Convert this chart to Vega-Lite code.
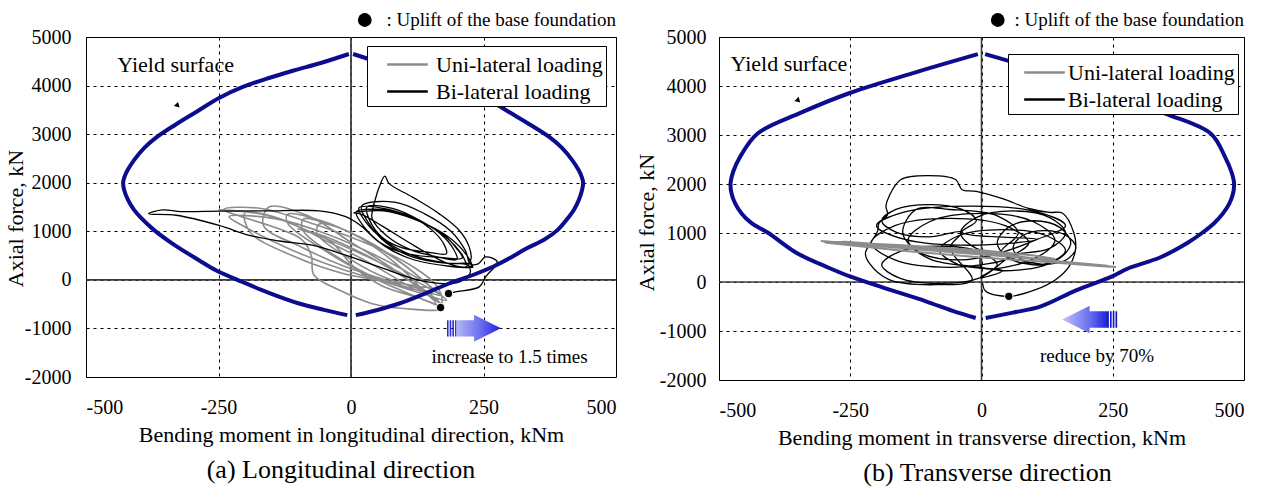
{
"$schema": "https://vega.github.io/schema/vega-lite/v6.json",
"background": "white",
"padding": {"left": 3, "top": 10, "right": 5, "bottom": 2},
"bounds": "flush",
"spacing": 103,
"resolve": {"scale": {"color": "independent"}, "legend": {"color": "independent"}},
"config": {
 "font": "Liberation Serif",
 "view": {"stroke": "#000", "strokeWidth": 1},
 "axis": {"labelFont": "Liberation Serif", "labelFontSize": 20, "labelColor": "#000", "titleFont": "Liberation Serif", "titleFontSize": 22, "titleFontWeight": "normal", "titleColor": "#000", "ticks": false, "domain": false, "grid": true, "gridColor": "#000", "gridDash": [3, 4], "gridWidth": 1, "gridOpacity": 1},
 "legend": {"fillColor": "#fff", "strokeColor": "#000", "padding": 3, "symbolType": "M-1.45,0L1.45,0", "symbolSize": 784, "symbolStrokeWidth": 2.5, "labelFont": "Liberation Serif", "labelFontSize": 22, "labelColor": "#000", "rowPadding": 0, "labelLimit": 0},
 "title": {"font": "Liberation Serif", "fontSize": 26, "fontWeight": "normal", "color": "#000", "orient": "bottom", "offset": 12},
 "text": {"font": "Liberation Serif", "color": "#000"}
},
"datasets": {
 "zero": [{"k": "v", "m": 0, "n": -2000}, {"k": "v", "m": 0, "n": 5000}, {"k": "h", "m": -500, "n": 0}, {"k": "h", "m": 500, "n": 0}],
 "ysa": [
  {"b":"L","m":-4,"n":4650},{"b":"L","m":-57,"n":4465},{"b":"L","m":-108,"n":4311},{"b":"L","m":-155,"n":4156},{"b":"L","m":-204,"n":3971},{"b":"L","m":-249,"n":3745},{"b":"L","m":-292,"n":3457},{"b":"L","m":-332,"n":3189},{"b":"L","m":-366,"n":2942},{"b":"L","m":-390,"n":2716},{"b":"L","m":-409,"n":2469},{"b":"L","m":-422,"n":2250},{"b":"L","m":-428,"n":2100},{"b":"L","m":-430,"n":1996},{"b":"L","m":-428,"n":1850},{"b":"L","m":-421,"n":1650},{"b":"L","m":-410,"n":1450},{"b":"L","m":-398,"n":1296},{"b":"L","m":-372,"n":1029},{"b":"L","m":-337,"n":747},{"b":"L","m":-287,"n":405},{"b":"L","m":-255,"n":199},{"b":"L","m":-205,"n":-41},{"b":"L","m":-155,"n":-267},{"b":"L","m":-98,"n":-487},{"b":"L","m":-51,"n":-617},{"b":"L","m":-7,"n":-727},
  {"b":"R","m":4,"n":4650},{"b":"R","m":58,"n":4465},{"b":"R","m":110,"n":4311},{"b":"R","m":158,"n":4156},{"b":"R","m":208,"n":3971},{"b":"R","m":254,"n":3745},{"b":"R","m":298,"n":3457},{"b":"R","m":339,"n":3189},{"b":"R","m":374,"n":2942},{"b":"R","m":398,"n":2716},{"b":"R","m":417,"n":2469},{"b":"R","m":430,"n":2250},{"b":"R","m":436,"n":2100},{"b":"R","m":438,"n":1996},{"b":"R","m":436,"n":1850},{"b":"R","m":430,"n":1650},{"b":"R","m":421,"n":1450},{"b":"R","m":411,"n":1296},{"b":"R","m":390,"n":1029},{"b":"R","m":365,"n":830},{"b":"R","m":330,"n":640},{"b":"R","m":300,"n":450},{"b":"R","m":270,"n":280},{"b":"R","m":230,"n":100},{"b":"R","m":185,"n":-75},{"b":"R","m":140,"n":-280},{"b":"R","m":91,"n":-487},{"b":"R","m":50,"n":-620},{"b":"R","m":9,"n":-727}
 ],
 "ysb": [
  {"b":"L","m":-7,"n":4650},{"b":"L","m":-132,"n":4259},{"b":"L","m":-251,"n":3857},{"b":"L","m":-345,"n":3450},{"b":"L","m":-427,"n":3027},{"b":"L","m":-460,"n":2550},{"b":"L","m":-473,"n":2250},{"b":"L","m":-478,"n":2020},{"b":"L","m":-476,"n":1800},{"b":"L","m":-469,"n":1600},{"b":"L","m":-457,"n":1400},{"b":"L","m":-438,"n":1200},{"b":"L","m":-406,"n":1000},{"b":"L","m":-352,"n":592},{"b":"L","m":-290,"n":286},{"b":"L","m":-252,"n":120},{"b":"L","m":-180,"n":-140},{"b":"L","m":-106,"n":-394},{"b":"L","m":-55,"n":-590},{"b":"L","m":-11,"n":-735},
  {"b":"R","m":7,"n":4650},{"b":"R","m":132,"n":4259},{"b":"R","m":251,"n":3857},{"b":"R","m":349,"n":3443},{"b":"R","m":437,"n":3027},{"b":"R","m":464,"n":2550},{"b":"R","m":476,"n":2250},{"b":"R","m":481,"n":2020},{"b":"R","m":479,"n":1800},{"b":"R","m":472,"n":1600},{"b":"R","m":460,"n":1400},{"b":"R","m":443,"n":1200},{"b":"R","m":420,"n":1000},{"b":"R","m":392,"n":796},{"b":"R","m":340,"n":500},{"b":"R","m":281,"n":286},{"b":"R","m":249,"n":116},{"b":"R","m":180,"n":-170},{"b":"R","m":113,"n":-496},{"b":"R","m":60,"n":-625},{"b":"R","m":8,"n":-735}
 ],
 "ua": [
  {"m":-250,"n":1440},{"m":-159,"n":1330},{"m":-54,"n":880},{"m":48,"n":389},{"m":127,"n":-52},{"m":165,"n":-300},{"m":99,"n":-132},{"m":-10,"n":191},{"m":-114,"n":626},{"m":-205,"n":1119},
  {"m":-230,"n":1300},{"m":-144,"n":1260},{"m":-46,"n":946},{"m":46,"n":508},{"m":116,"n":98},{"m":150,"n":-150},{"m":87,"n":-62},{"m":-15,"n":132},{"m":-110,"n":495},{"m":-190,"n":977},
  {"m":-200,"n":1380},{"m":-131,"n":1250},{"m":-50,"n":818},{"m":29,"n":386},{"m":90,"n":-5},{"m":120,"n":-200},{"m":70,"n":-19},{"m":-14,"n":283},{"m":-94,"n":678},{"m":-165,"n":1116},
  {"m":-155,"n":1500},{"m":-83,"n":1330},{"m":2,"n":759},{"m":82,"n":207},{"m":144,"n":-298},{"m":175,"n":-560},{"m":122,"n":-344},{"m":35,"n":78},{"m":-48,"n":593},{"m":-119,"n":1160},
  {"m":-120,"n":1350},{"m":-51,"n":1201},{"m":26,"n":814},{"m":99,"n":316},{"m":153,"n":-169},{"m":180,"n":-420},{"m":130,"n":-267},{"m":49,"n":28},{"m":-26,"n":471},{"m":-90,"n":1008},
  {"m":-90,"n":1250},{"m":-31,"n":1103},{"m":37,"n":767},{"m":99,"n":318},{"m":146,"n":-107},{"m":170,"n":-320},{"m":127,"n":-178},{"m":56,"n":85},{"m":-9,"n":478},{"m":-64,"n":950},
  {"m":-60,"n":1150},{"m":-8,"n":1010},{"m":49,"n":639},{"m":101,"n":176},{"m":140,"n":-261},{"m":160,"n":-480},{"m":122,"n":-348},{"m":59,"n":-126},{"m":4,"n":282},{"m":-40,"n":805},
  {"m":-100,"n":1050},{"m":-50,"n":900},{"m":30,"n":500},{"m":100,"n":50},{"m":150,"n":-300},{"m":175,"n":-590},{"m":100,"n":-590},{"m":40,"n":-490},{"m":-20,"n":-220},{"m":-70,"n":100},{"m":-75,"n":500},{"m":-95,"n":850},
  {"m":-240,"n":1450},{"m":-170,"n":1470},{"m":-70,"n":1150},{"m":40,"n":700},{"m":120,"n":250},{"m":160,"n":-100},{"m":172,"n":-400},{"m":169,"n":-570}
 ],
 "ba": [
  {"m":25,"n":1450},{"m":70,"n":1440},{"m":116,"n":1287},{"m":153,"n":1024},{"m":175,"n":740},{"m":180,"n":540},{"m":145,"n":570},{"m":97,"n":657},{"m":58,"n":884},{"m":35,"n":1230},
  {"m":30,"n":1500},{"m":78,"n":1470},{"m":127,"n":1243},{"m":168,"n":955},{"m":193,"n":640},{"m":200,"n":420},{"m":165,"n":470},{"m":112,"n":623},{"m":69,"n":893},{"m":40,"n":1260},
  {"m":40,"n":1400},{"m":47,"n":1700},{"m":53,"n":1907},{"m":64,"n":2134},{"m":72,"n":1981},{"m":116,"n":1704},{"m":166,"n":1364},{"m":204,"n":1022},{"m":223,"n":679},{"m":226,"n":405},{"m":216,"n":267},{"m":180,"n":350},{"m":120,"n":700},{"m":60,"n":1100},{"m":20,"n":1350},
  {"m":5,"n":1380},{"m":62,"n":1420},{"m":120,"n":1245},{"m":170,"n":976},{"m":199,"n":650},{"m":210,"n":450},{"m":168,"n":460},{"m":105,"n":538},{"m":54,"n":771},{"m":18,"n":1120},
  {"m":-10,"n":1300},{"m":-60,"n":1420},{"m":-161,"n":1420},{"m":-249,"n":1414},{"m":-320,"n":1405},{"m":-356,"n":1440},{"m":-382,"n":1360},{"m":-330,"n":1330},{"m":-249,"n":1123},{"m":-192,"n":917},{"m":-136,"n":800},{"m":-73,"n":713},{"m":-10,"n":508},{"m":53,"n":267},{"m":128,"n":-6},{"m":178,"n":-76},{"m":205,"n":-40},{"m":225,"n":150},
  {"m":220,"n":300},{"m":178,"n":350},{"m":116,"n":506},{"m":65,"n":801},{"m":28,"n":1190},{"m":15,"n":1480},{"m":71,"n":1450},{"m":129,"n":1215},{"m":179,"n":883},{"m":209,"n":530},{"m":220,"n":300},
  {"m":230,"n":260},{"m":186,"n":280},{"m":118,"n":414},{"m":63,"n":699},{"m":24,"n":1100},{"m":10,"n":1400},{"m":71,"n":1415},{"m":133,"n":1189},{"m":186,"n":868},{"m":219,"n":500},{"m":230,"n":260},
  {"m":225,"n":330},{"m":182,"n":340},{"m":117,"n":468},{"m":66,"n":766},{"m":32,"n":1190},{"m":20,"n":1520},{"m":82,"n":1600},{"m":139,"n":1360},{"m":188,"n":1007},{"m":216,"n":600},{"m":225,"n":330},
  {"m":240,"n":330},{"m":254,"n":473},{"m":276,"n":370},{"m":254,"n":62},{"m":242,"n":-144},{"m":197,"n":-247},{"m":184,"n":-282}
 ],
 "ub": [
  {"m":-306,"n":835},{"m":-150,"n":715},{"m":0,"n":590},{"m":150,"n":420},{"m":256,"n":308},
  {"m":230,"n":320},{"m":100,"n":430},{"m":0,"n":500},{"m":-150,"n":640},{"m":-295,"n":800},
  {"m":-300,"n":825},{"m":-150,"n":750},{"m":0,"n":650},{"m":100,"n":540},{"m":140,"n":470},
  {"m":100,"n":480},{"m":0,"n":560},{"m":-150,"n":690},{"m":-280,"n":810},
  {"m":-260,"n":820},{"m":-100,"n":700},{"m":0,"n":620},{"m":130,"n":440},{"m":240,"n":330}
 ],
 "bb": [
  {"m":0,"n":600},
  {"m":0,"n":300},{"m":98,"n":465},{"m":140,"n":850},{"m":98,"n":1235},{"m":0,"n":1400},{"m":-98,"n":1235},{"m":-140,"n":850},{"m":-98,"n":465},{"m":0,"n":300},
  {"m":40,"n":230},{"m":124,"n":356},{"m":160,"n":650},{"m":124,"n":944},{"m":40,"n":1070},{"m":-44,"n":944},{"m":-80,"n":650},{"m":-44,"n":356},{"m":40,"n":230},
  {"m":-3,"n":84},{"m":30,"n":350},{"m":-3,"n":616},{"m":-80,"n":730},{"m":-157,"n":616},{"m":-190,"n":350},{"m":-157,"n":84},{"m":-80,"n":-30},{"m":-3,"n":84},
  {"m":45,"n":450},{"m":90,"n":800},{"m":45,"n":1150},{"m":-60,"n":1300},{"m":-165,"n":1150},{"m":-210,"n":800},{"m":-165,"n":450},{"m":-60,"n":300},{"m":45,"n":450},
  {"m":60,"n":550},{"m":130,"n":685},{"m":160,"n":1000},{"m":130,"n":1315},{"m":60,"n":1450},{"m":-10,"n":1315},{"m":-40,"n":1000},{"m":-10,"n":685},{"m":60,"n":550},
  {"m":100,"n":350},{"m":149,"n":485},{"m":170,"n":800},{"m":149,"n":1115},{"m":100,"n":1250},{"m":51,"n":1115},{"m":30,"n":800},{"m":51,"n":485},{"m":100,"n":350},
  {"m":120,"n":350},{"m":162,"n":455},{"m":180,"n":700},{"m":162,"n":945},{"m":120,"n":1050},{"m":78,"n":945},{"m":60,"n":700},{"m":78,"n":455},{"m":120,"n":350},
  {"m":37,"n":600},{"m":70,"n":1000},{"m":30,"n":1350},{"m":-60,"n":1480},{"m":-125,"n":1476},{"m":-150,"n":1000},{"m":-117,"n":600},{"m":-40,"n":450},{"m":37,"n":600},
  {"m":106,"n":870},{"m":160,"n":1150},{"m":106,"n":1430},{"m":-20,"n":1550},{"m":-146,"n":1430},{"m":-200,"n":1150},{"m":-146,"n":870},{"m":-20,"n":750},{"m":106,"n":870},
  {"m":-37,"n":1019},{"m":-10,"n":1250},{"m":-37,"n":1481},{"m":-100,"n":1580},{"m":-163,"n":1481},{"m":-190,"n":1250},{"m":-163,"n":1019},{"m":-100,"n":920},{"m":-37,"n":1019},
  {"m":-60,"n":700},{"m":-18,"n":47},{"m":-87,"n":-55},{"m":-176,"n":47},{"m":-214,"n":388},{"m":-221,"n":592},{"m":-198,"n":1035},{"m":-195,"n":1204},{"m":-179,"n":1373},{"m":-182,"n":1545},{"m":-176,"n":1749},{"m":-154,"n":2088},{"m":-100,"n":2169},{"m":-49,"n":2088},{"m":-37,"n":1884},{"m":-10,"n":1850},{"m":40,"n":1700},{"m":90,"n":1500},{"m":130,"n":1420},{"m":154,"n":1408},{"m":176,"n":1000},{"m":179,"n":659},{"m":167,"n":320},{"m":141,"n":47},{"m":103,"n":-157},{"m":52,"n":-292},{"m":8,"n":-190},{"m":2,"n":-20}
 ]
},
"hconcat": [
 {
  "width": 530, "height": 340,
  "title": {"text": "(a) Longitudinal direction", "dx": -10},
  "layer": [
   {"data": {"name": "zero"}, "mark": {"type": "line", "color": "#3c3c3c", "strokeWidth": 1.8},
    "encoding": {
     "x": {"field": "m", "type": "quantitative", "title": "Bending moment in longitudinal direction, kNm", "scale": {"domain": [-500, 500], "nice": false, "zero": false}, "axis": {"values": [-500, -250, 0, 250, 500], "labelExpr": "'' + datum.value", "labelFont": "Liberation Serif", "labelFontSize": 20, "labelPadding": 20, "titlePadding": 7}},
     "y": {"field": "n", "type": "quantitative", "title": "Axial force, kN", "scale": {"domain": [-2000, 5000], "nice": false, "zero": false}, "axis": {"values": [-2000, -1000, 0, 1000, 2000, 3000, 4000, 5000], "labelExpr": "'' + datum.value", "labelFont": "Liberation Serif", "labelFontSize": 20, "labelPadding": 15, "titleX": -59, "titleY": 181}},
     "detail": {"field": "k"}, "order": {"value": null}}},
   {"data": {"name": "ua"}, "mark": {"type": "line", "strokeWidth": 1.6, "interpolate": "catmull-rom"},
    "encoding": {
     "x": {"field": "m", "type": "quantitative", "title": "Bending moment in longitudinal direction, kNm", "scale": {"domain": [-500, 500], "nice": false, "zero": false}},
     "y": {"field": "n", "type": "quantitative", "title": "Axial force, kN", "scale": {"domain": [-2000, 5000], "nice": false, "zero": false}},
     "color": {"datum": "Uni-lateral loading", "type": "nominal", "scale": {"domain": ["Uni-lateral loading", "Bi-lateral loading"], "range": ["#8c8c8c", "#000000"]}, "legend": {"title": null, "orient": "none", "legendX": 281, "legendY": 9, "symbolOffset": 22, "labelOffset": 13}},
     "order": {"value": null}}},
   {"data": {"name": "ba"}, "mark": {"type": "line", "strokeWidth": 1.3, "interpolate": "catmull-rom"},
    "encoding": {
     "x": {"field": "m", "type": "quantitative", "title": "Bending moment in longitudinal direction, kNm", "scale": {"domain": [-500, 500], "nice": false, "zero": false}},
     "y": {"field": "n", "type": "quantitative", "title": "Axial force, kN", "scale": {"domain": [-2000, 5000], "nice": false, "zero": false}},
     "color": {"datum": "Bi-lateral loading", "type": "nominal"}, "order": {"value": null}}},
   {"data": {"name": "ysa"}, "mark": {"type": "line", "color": "#0c0c8f", "strokeWidth": 4, "interpolate": "catmull-rom"},
    "encoding": {
     "x": {"field": "m", "type": "quantitative", "title": "Bending moment in longitudinal direction, kNm", "scale": {"domain": [-500, 500], "nice": false, "zero": false}},
     "y": {"field": "n", "type": "quantitative", "title": "Axial force, kN", "scale": {"domain": [-2000, 5000], "nice": false, "zero": false}},
     "detail": {"field": "b"}, "order": {"value": null}}},
   {"data": {"values": [{"m": 184, "n": -282}, {"m": 169, "n": -570}]}, "mark": {"type": "point", "filled": true, "color": "#000", "stroke": "#fff", "strokeWidth": 1, "size": 70, "opacity": 1},
    "encoding": {
     "x": {"field": "m", "type": "quantitative", "title": "Bending moment in longitudinal direction, kNm", "scale": {"domain": [-500, 500], "nice": false, "zero": false}},
     "y": {"field": "n", "type": "quantitative", "title": "Axial force, kN", "scale": {"domain": [-2000, 5000], "nice": false, "zero": false}}}},
   {"data": {"values": [{}]}, "mark": {"type": "point", "filled": true, "color": "#000", "size": 190, "opacity": 1, "yOffset": -17}, "encoding": {"x": {"datum": 26, "type": "quantitative"}, "y": {"datum": 5000, "type": "quantitative"}}},
   {"data": {"values": [{}]}, "mark": {"type": "text", "text": ": Uplift of the base foundation", "align": "right", "baseline": "middle", "fontSize": 19, "dy": -17}, "encoding": {"x": {"datum": 500, "type": "quantitative"}, "y": {"datum": 5000, "type": "quantitative"}}},
   {"data": {"values": [{}]}, "mark": {"type": "text", "text": "Yield surface", "align": "center", "baseline": "middle", "fontSize": 22}, "encoding": {"x": {"datum": -331, "type": "quantitative"}, "y": {"datum": 4424, "type": "quantitative"}}},
   {"data": {"values": [{}]}, "mark": {"type": "point", "shape": "triangle", "angle": 135, "filled": true, "color": "#000", "size": 35, "opacity": 1}, "encoding": {"x": {"datum": -328, "type": "quantitative"}, "y": {"datum": 3596, "type": "quantitative"}}},
   {"data": {"values": [{}]}, "mark": {"type": "point", "shape": "M-1,-0.3L-0.94,-0.3L-0.94,0.3L-1,0.3Z M-0.9,-0.3L-0.84,-0.3L-0.84,0.3L-0.9,0.3Z M-0.8,-0.3L-0.74,-0.3L-0.74,0.3L-0.8,0.3Z M-0.7,-0.3L0,-0.3L0,-0.5L1,0L0,0.5L0,0.3L-0.7,0.3Z", "size": 2916, "filled": true, "opacity": 1, "strokeWidth": 0, "fill": {"gradient": "linear", "x1": 0, "y1": 0, "x2": 1, "y2": 0, "stops": [{"offset": 0, "color": "#2f2fd6"}, {"offset": 0.16, "color": "#2f2fd6"}, {"offset": 0.18, "color": "#b2b6f4"}, {"offset": 0.62, "color": "#6a6ef0"}, {"offset": 1, "color": "#1f1fe0"}]}}, "encoding": {"x": {"datum": 232, "type": "quantitative"}, "y": {"datum": -998, "type": "quantitative"}}},
   {"data": {"values": [{}]}, "mark": {"type": "text", "text": "increase to 1.5 times", "align": "center", "baseline": "middle", "fontSize": 19}, "encoding": {"x": {"datum": 299, "type": "quantitative"}, "y": {"datum": -1584, "type": "quantitative"}}}
  ]
 },
 {
  "width": 525, "height": 343,
  "title": {"text": "(b) Transverse direction", "dx": 6},
  "layer": [
   {"data": {"name": "zero"}, "mark": {"type": "line", "color": "#3c3c3c", "strokeWidth": 1.6},
    "encoding": {
     "x": {"field": "m", "type": "quantitative", "title": "Bending moment in transverse direction, kNm", "scale": {"domain": [-500, 500], "nice": false, "zero": false}, "axis": {"values": [-500, -250, 0, 250, 500], "labelExpr": "'' + datum.value", "labelFont": "Liberation Serif", "labelFontSize": 20, "labelPadding": 20, "titlePadding": 7}},
     "y": {"field": "n", "type": "quantitative", "title": "Axial force, kN", "scale": {"domain": [-2000, 5000], "nice": false, "zero": false}, "axis": {"values": [-2000, -1000, 0, 1000, 2000, 3000, 4000, 5000], "labelExpr": "'' + datum.value", "labelFont": "Liberation Serif", "labelFontSize": 20, "labelPadding": 13, "titleX": -61, "titleY": 185}},
     "detail": {"field": "k"}, "order": {"value": null}}},
   {"data": {"name": "bb"}, "mark": {"type": "line", "strokeWidth": 1.3, "interpolate": "catmull-rom"},
    "encoding": {
     "x": {"field": "m", "type": "quantitative", "title": "Bending moment in transverse direction, kNm", "scale": {"domain": [-500, 500], "nice": false, "zero": false}},
     "y": {"field": "n", "type": "quantitative", "title": "Axial force, kN", "scale": {"domain": [-2000, 5000], "nice": false, "zero": false}},
     "color": {"datum": "Bi-lateral loading", "type": "nominal", "scale": {"domain": ["Uni-lateral loading", "Bi-lateral loading"], "range": ["#8c8c8c", "#000000"]}, "legend": {"title": null, "orient": "none", "legendX": 289, "legendY": 17, "symbolOffset": 18, "labelOffset": 8}},
     "order": {"value": null}}},
   {"data": {"name": "ub"}, "mark": {"type": "line", "strokeWidth": 2, "interpolate": "linear"},
    "encoding": {
     "x": {"field": "m", "type": "quantitative", "title": "Bending moment in transverse direction, kNm", "scale": {"domain": [-500, 500], "nice": false, "zero": false}},
     "y": {"field": "n", "type": "quantitative", "title": "Axial force, kN", "scale": {"domain": [-2000, 5000], "nice": false, "zero": false}},
     "color": {"datum": "Uni-lateral loading", "type": "nominal"}, "order": {"value": null}}},
   {"data": {"name": "ysb"}, "mark": {"type": "line", "color": "#0c0c8f", "strokeWidth": 4, "interpolate": "catmull-rom"},
    "encoding": {
     "x": {"field": "m", "type": "quantitative", "title": "Bending moment in transverse direction, kNm", "scale": {"domain": [-500, 500], "nice": false, "zero": false}},
     "y": {"field": "n", "type": "quantitative", "title": "Axial force, kN", "scale": {"domain": [-2000, 5000], "nice": false, "zero": false}},
     "detail": {"field": "b"}, "order": {"value": null}}},
   {"data": {"values": [{"m": 52, "n": -292}]}, "mark": {"type": "point", "filled": true, "color": "#000", "stroke": "#fff", "strokeWidth": 1, "size": 70, "opacity": 1},
    "encoding": {
     "x": {"field": "m", "type": "quantitative", "title": "Bending moment in transverse direction, kNm", "scale": {"domain": [-500, 500], "nice": false, "zero": false}},
     "y": {"field": "n", "type": "quantitative", "title": "Axial force, kN", "scale": {"domain": [-2000, 5000], "nice": false, "zero": false}}}},
   {"data": {"values": [{}]}, "mark": {"type": "point", "filled": true, "color": "#000", "size": 190, "opacity": 1, "yOffset": -17}, "encoding": {"x": {"datum": 31, "type": "quantitative"}, "y": {"datum": 5000, "type": "quantitative"}}},
   {"data": {"values": [{}]}, "mark": {"type": "text", "text": ": Uplift of the base foundation", "align": "right", "baseline": "middle", "fontSize": 19, "dy": -17}, "encoding": {"x": {"datum": 500, "type": "quantitative"}, "y": {"datum": 5000, "type": "quantitative"}}},
   {"data": {"values": [{}]}, "mark": {"type": "text", "text": "Yield surface", "align": "center", "baseline": "middle", "fontSize": 22}, "encoding": {"x": {"datum": -367, "type": "quantitative"}, "y": {"datum": 4449, "type": "quantitative"}}},
   {"data": {"values": [{}]}, "mark": {"type": "point", "shape": "triangle", "angle": 135, "filled": true, "color": "#000", "size": 35, "opacity": 1}, "encoding": {"x": {"datum": -350, "type": "quantitative"}, "y": {"datum": 3714, "type": "quantitative"}}},
   {"data": {"values": [{}]}, "mark": {"type": "point", "shape": "M1,-0.3L0.94,-0.3L0.94,0.3L1,0.3Z M0.9,-0.3L0.84,-0.3L0.84,0.3L0.9,0.3Z M0.8,-0.3L0.74,-0.3L0.74,0.3L0.8,0.3Z M0.7,-0.3L0,-0.3L0,-0.5L-1,0L0,0.5L0,0.3L0.7,0.3Z", "size": 3025, "filled": true, "opacity": 1, "strokeWidth": 0, "fill": {"gradient": "linear", "x1": 0, "y1": 0, "x2": 1, "y2": 0, "stops": [{"offset": 0, "color": "#c0c4f6"}, {"offset": 0.5, "color": "#6a6ef0"}, {"offset": 0.8, "color": "#2626d8"}, {"offset": 0.84, "color": "#1616c8"}, {"offset": 1, "color": "#1616c8"}]}}, "encoding": {"x": {"datum": 206, "type": "quantitative"}, "y": {"datum": -765, "type": "quantitative"}}},
   {"data": {"values": [{}]}, "mark": {"type": "text", "text": "reduce by 70%", "align": "center", "baseline": "middle", "fontSize": 19}, "encoding": {"x": {"datum": 220, "type": "quantitative"}, "y": {"datum": -1510, "type": "quantitative"}}}
  ]
 }
]
}
